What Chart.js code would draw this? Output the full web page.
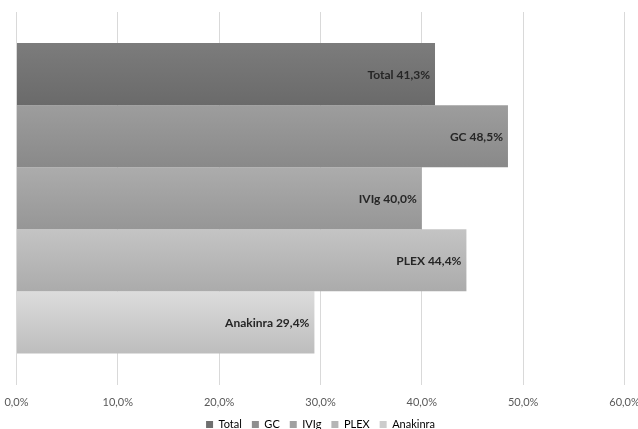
<!DOCTYPE html>
<html>
<head>
<meta charset="utf-8">
<script src="https://cdn.jsdelivr.net/npm/chart.js@4/dist/chart.umd.min.js"></script>
<style>
  body { margin: 0; background: #fff; }
  #wrap { width: 638px; height: 429px; }
</style>
</head>
<body>
<div id="wrap"><canvas id="barcanvas" width="638" height="429"></canvas></div>
<script>
// series names and values (percent)
var groups = ["Total", "GC", "IVIg", "PLEX", "Anakinra"];
var values = [41.3, 48.5, 40.0, 44.4, 29.4];
var xTicks = [0, 10, 20, 30, 40, 50, 60];

// grey shades, top and bottom of each bar gradient
var topColors = ["#7c7c7c", "#9d9d9d", "#acacac", "#c4c4c4", "#dcdcdc"];
var bottomColors = ["#6a6a6a", "#898989", "#969696", "#ababab", "#bdbdbd"];
var swatchColors = ["#6f6f6f", "#8f8f8f", "#a0a0a0", "#b5b5b5", "#cccccc"];

function fmt(v) {
    return v.toFixed(1).replace(".", ",") + "%";
}

var datasets = [];
for (let i = 0; i < groups.length; i++) {
    datasets.push({
        label: groups[i],
        data: [values[i]],
        backgroundColor: swatchColors[i],
        categoryPercentage: 0.833,
        barPercentage: 1.0
    });
}

// gradient fill + value labels inside the bar end
var barStyle = {
    id: "barStyle",
    beforeDatasetsDraw: function(chart) {
        var c = chart.ctx;
        chart.data.datasets.forEach(function(ds, i) {
            var bar = chart.getDatasetMeta(i).data[0];
            var h = bar.height / 2;
            var g = c.createLinearGradient(0, bar.y - h, 0, bar.y + h);
            g.addColorStop(0, topColors[i]);
            g.addColorStop(1, bottomColors[i]);
            bar.options.backgroundColor = g;
        });
    },
    afterDatasetsDraw: function(chart) {
        var c = chart.ctx;
        c.save();
        c.font = "bold 12px Lato";
        c.fillStyle = "#262626";
        c.textAlign = "right";
        c.textBaseline = "middle";
        chart.data.datasets.forEach(function(ds, i) {
            var bar = chart.getDatasetMeta(i).data[0];
            c.fillText(ds.label + " " + fmt(ds.data[0]), bar.x - 5, bar.y + 1);
        });
        c.restore();
    }
};

var chart = new Chart(document.getElementById("barcanvas"), {
    type: "bar",
    data: { labels: [""], datasets: datasets },
    plugins: [barStyle],
    options: {
        indexAxis: "y",
        responsive: false,
        animation: false,
        layout: { padding: { left: 16.5, right: 13.5, top: 12, bottom: -11 } },
        scales: {
            x: {
                min: 0,
                max: 60,
                afterBuildTicks: function(axis) {
                    axis.ticks = xTicks.map(function(v) { return { value: v }; });
                },
                afterFit: function(axis) {
                    axis.paddingLeft = 0;
                    axis.paddingRight = 0;
                    axis.paddingBottom = 0;
                    axis.height = 24.5;
                },
                ticks: {
                    color: "#595959",
                    font: { family: "Lato", size: 11 },
                    padding: 11,
                    callback: function(v) { return fmt(v); }
                },
                grid: { color: "#d9d9d9", drawTicks: false },
                border: { display: false }
            },
            y: { display: false }
        },
        plugins: {
            legend: {
                position: "bottom",
                labels: {
                    color: "#595959",
                    font: { family: "Lato", size: 11 },
                    boxWidth: 7,
                    boxHeight: 7,
                    padding: 10,
                    generateLabels: function(ch) {
                        return groups.map(function(g, i) {
                            return { text: g, fillStyle: swatchColors[i], strokeStyle: swatchColors[i], lineWidth: 0, datasetIndex: i };
                        });
                    }
                }
            },
            tooltip: { enabled: false }
        }
    }
});
</script>
</body>
</html>
